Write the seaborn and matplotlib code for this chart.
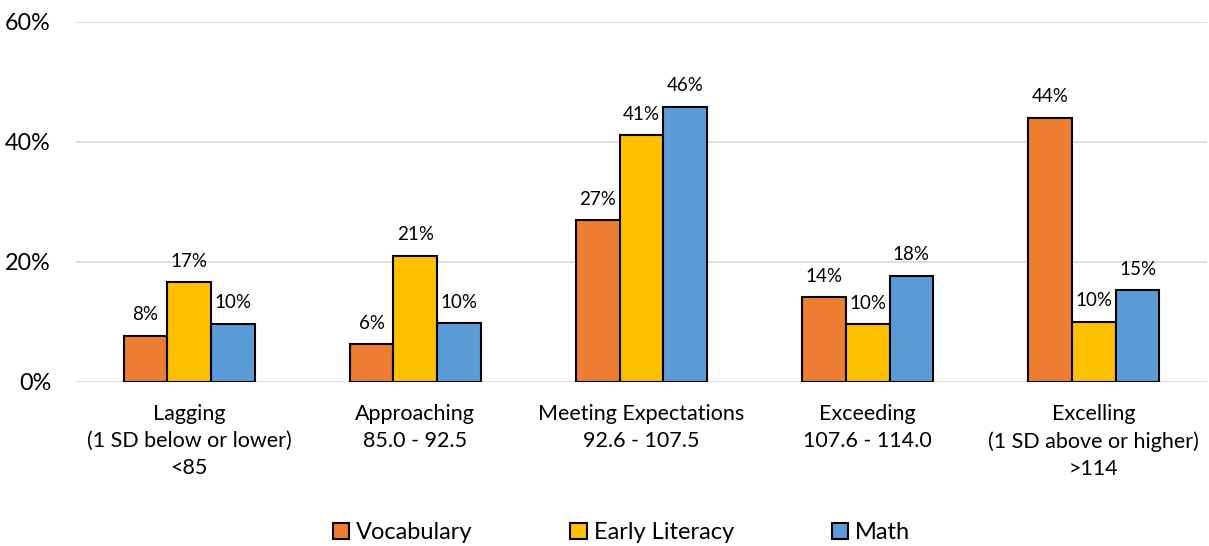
import matplotlib
matplotlib.use("Agg")
import matplotlib.pyplot as plt
from matplotlib.patches import Patch
import seaborn as sns
import pandas as pd

# Score bands (x-axis categories)
categories = [
    "Lagging\n(1 SD below or lower)\n<85",
    "Approaching\n85.0 - 92.5",
    "Meeting Expectations\n92.6 - 107.5",
    "Exceeding\n107.6 - 114.0",
    "Excelling\n(1 SD above or higher)\n>114",
]
series = ["Vocabulary", "Early Literacy", "Math"]

# Percent of children in each band, per assessment
vocabulary = [7.7, 6.3, 26.9, 14.1, 44.0]
early_literacy = [16.6, 21.0, 41.1, 9.6, 10.0]
math_scores = [9.7, 9.8, 45.8, 17.7, 15.3]

y_ticks = [0, 20, 40, 60]
colors = ["#ED7D31", "#FFC000", "#5B9BD5"]

rows = []
for name, values in zip(series, [vocabulary, early_literacy, math_scores]):
    for cat, v in zip(categories, values):
        rows.append({"Category": cat, "Series": name, "Percent": v})
df = pd.DataFrame(rows)

sns.set_theme(style="white")
plt.rcParams["font.family"] = ["Lato", "DejaVu Sans"]
plt.rcParams["text.color"] = "#000000"

W, H = 1209, 546
fig = plt.figure(figsize=(W / 100, H / 100), dpi=100)
ax = fig.add_axes([76 / W, 1 - 382 / H, (1207 - 76) / W, (382 - 21.5) / H])

sns.barplot(
    data=df, x="Category", y="Percent", hue="Series",
    order=categories, hue_order=series, palette=colors,
    saturation=1, width=0.58, gap=0, errorbar=None,
    edgecolor="black", linewidth=1.5, legend=False, ax=ax,
)

for container in ax.containers:
    ax.bar_label(container, fmt="{:.0f}%", padding=9, fontsize=13.5, color="black")

ax.set_ylim(0, 60)
ax.set_xlim(-0.5, len(categories) - 0.5)
ax.set_yticks(y_ticks)
ax.set_yticklabels([f"{t}%" for t in y_ticks])
ax.yaxis.grid(True, color="#D9D9D9", linewidth=1.2)
ax.set_axisbelow(True)
for s in ax.spines.values():
    s.set_visible(False)
ax.set_xlabel("")
ax.set_ylabel("")
ax.tick_params(axis="y", length=0, pad=18, labelsize=16.8, labelcolor="black")
ax.tick_params(axis="x", length=0, pad=16, labelsize=15.5, labelcolor="black")
for lbl in ax.get_xticklabels():
    lbl.set_linespacing(1.42)

handles = [Patch(facecolor=c, edgecolor="black", linewidth=1.5, label=s)
           for c, s in zip(colors, series)]
fig.legend(
    handles=handles, loc="center", bbox_to_anchor=(0.514, 0.024), ncol=3,
    frameon=False, fontsize=17, handlelength=0.68, handleheight=0.7,
    handletextpad=0.3, columnspacing=4.15,
)

fig.savefig("out.png", dpi=100)
